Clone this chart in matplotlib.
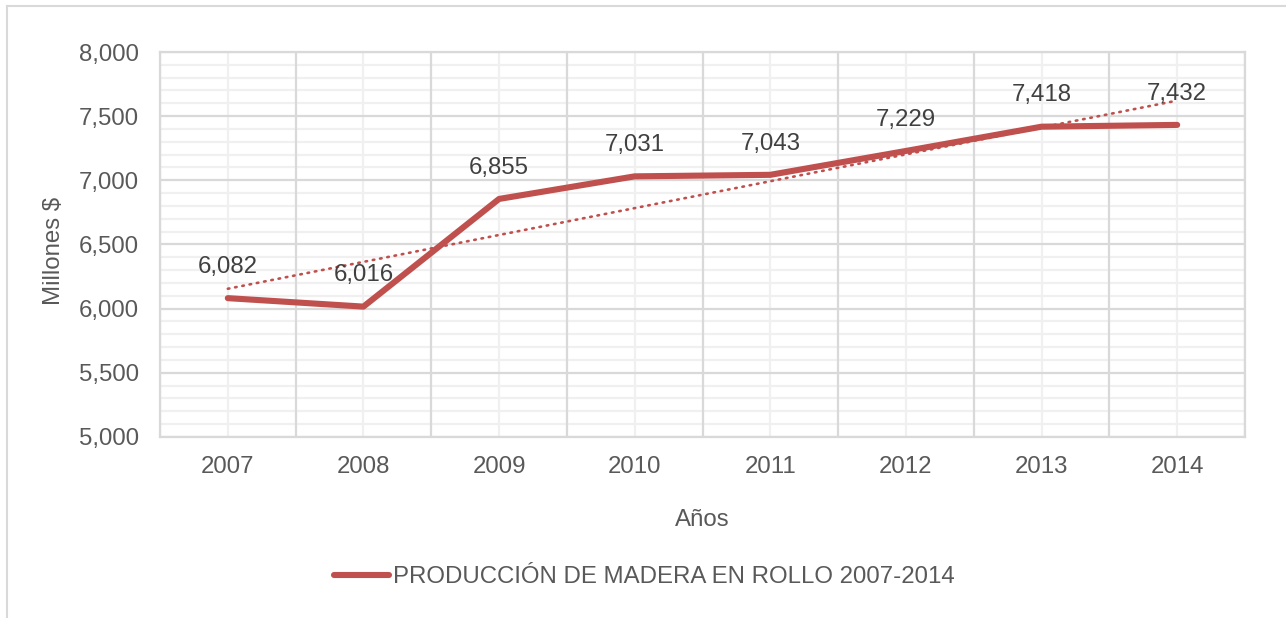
import numpy as np
import matplotlib
matplotlib.use("Agg")
import matplotlib.pyplot as plt
from matplotlib.lines import Line2D
from matplotlib.ticker import MultipleLocator, FuncFormatter

years = ["2007", "2008", "2009", "2010", "2011", "2012", "2013", "2014"]
values = [6082, 6016, 6855, 7031, 7043, 7229, 7418, 7432]
series_name = "PRODUCCIÓN DE MADERA EN ROLLO 2007-2014"
x_label = "Años"
y_label = "Millones $"

plt.rcParams['font.family'] = ['Liberation Sans', 'DejaVu Sans']
text_color = "#595959"
red = "#C0504D"
fs = 17.3

fig = plt.figure(figsize=(12.86, 6.18), dpi=100)
W, H = 1286, 618
ax = fig.add_axes([160 / W, 1 - 437 / H, (1245 - 160) / W, (437 - 52) / H])

x = np.arange(len(years))
ax.plot(x, values, color=red, lw=4.4, solid_capstyle='round', solid_joinstyle='round', zorder=3,
        label=series_name)

# linear trendline
coef = np.polyfit(x, values, 1)
trend = np.polyval(coef, x)
ax.plot([x[0], x[-1]], [trend[0], trend[-1]], color=red, lw=1.9, linestyle=(0, (0.6, 2.2)),
        dash_capstyle='round', zorder=4)

for xi, v in zip(x, values):
    ax.annotate(f"{v:,}", (xi, v), xytext=(0, 22.5), textcoords='offset points',
                ha='center', va='center', fontsize=fs, color="#404040", zorder=5)

ax.set_xlim(-0.5, len(years) - 0.5)
ax.set_ylim(5000, 8000)
ax.yaxis.set_major_locator(MultipleLocator(500))
ax.yaxis.set_minor_locator(MultipleLocator(100))
ax.yaxis.set_major_formatter(FuncFormatter(lambda v, p: f"{int(v):,}"))
ax.set_xticks(x)
ax.set_xticklabels(years)
ax.set_xticks(np.arange(-0.5, len(years)), minor=True)

ax.grid(False)
for yv in np.arange(5000, 8001, 100):
    if yv % 500 != 0:
        ax.axhline(yv, color="#F0F0F0", lw=1.6, zorder=0)
for xv in x:
    ax.axvline(xv, color="#F0F0F0", lw=1.6, zorder=0)
for yv in np.arange(5000, 8001, 500):
    ax.axhline(yv, color="#D9D9D9", lw=1.6, zorder=1)
for xv in np.arange(-0.5, len(years)):
    ax.axvline(xv, color="#D9D9D9", lw=1.6, zorder=1)

for s in ax.spines.values():
    s.set_color("#D9D9D9")
    s.set_linewidth(1.6)

ax.tick_params(axis='both', which='both', length=0, labelsize=fs, labelcolor=text_color)
ax.tick_params(axis='x', pad=14)
ax.tick_params(axis='y', pad=15)
ax.set_xlabel(x_label, fontsize=fs, color=text_color, labelpad=22)
ax.set_ylabel(y_label, fontsize=fs, color=text_color, va='center')
ax.yaxis.set_label_coords((54 - 160) / 1085, (437 - 251) / 385)

leg = fig.legend(handles=[Line2D([0], [0], color=red, lw=4.4, solid_capstyle='round')],
                 labels=[series_name], loc='center', bbox_to_anchor=(644 / W, 1 - 577 / H),
                 frameon=False, fontsize=fs, handlelength=2.3, handletextpad=0.15)
for t in leg.get_texts():
    t.set_color(text_color)

# outer chart border (left & top visible)
fig.add_artist(Line2D([7 / W, 7 / W], [0, 1 - 6 / H], color="#D9D9D9", lw=1.5, transform=fig.transFigure))
fig.add_artist(Line2D([7 / W, 1], [1 - 6 / H, 1 - 6 / H], color="#D9D9D9", lw=1.5, transform=fig.transFigure))

fig.savefig("out.png", dpi=100)
